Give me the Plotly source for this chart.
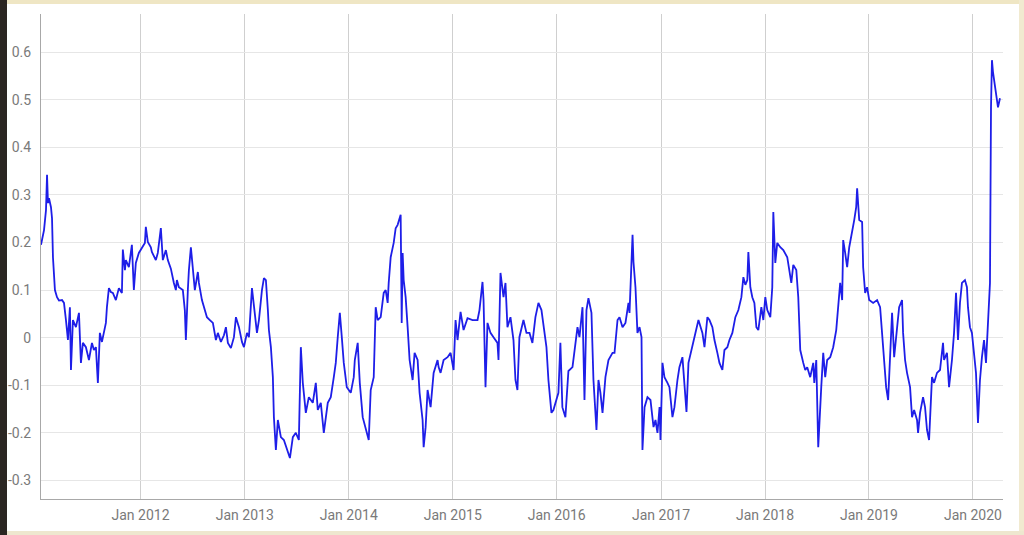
import pandas as pd
import plotly.graph_objects as go

# time as decimal years
t_years = [
    2011.043, 2011.053, 2011.072, 2011.091, 2011.101, 2011.110, 2011.120, 2011.139, 2011.149, 2011.158,
    2011.168, 2011.177, 2011.197, 2011.216, 2011.245, 2011.264, 2011.283, 2011.302, 2011.321, 2011.331,
    2011.350, 2011.379, 2011.408, 2011.427, 2011.446, 2011.475, 2011.504, 2011.533, 2011.552, 2011.571,
    2011.590, 2011.609, 2011.629, 2011.648, 2011.667, 2011.677, 2011.696, 2011.715, 2011.734, 2011.763,
    2011.792, 2011.821, 2011.830, 2011.850, 2011.859, 2011.888, 2011.917, 2011.936, 2011.955, 2011.984,
    2012.013, 2012.042, 2012.051, 2012.070, 2012.099, 2012.109, 2012.147, 2012.166, 2012.195, 2012.214,
    2012.243, 2012.262, 2012.291, 2012.301, 2012.320, 2012.339, 2012.349, 2012.368, 2012.406, 2012.425,
    2012.435, 2012.454, 2012.464, 2012.483, 2012.502, 2012.521, 2012.550, 2012.560, 2012.589, 2012.608,
    2012.637, 2012.665, 2012.694, 2012.723, 2012.742, 2012.771, 2012.800, 2012.819, 2012.838, 2012.867,
    2012.896, 2012.915, 2012.944, 2012.973, 2012.992, 2013.021, 2013.040, 2013.069, 2013.088, 2013.117,
    2013.136, 2013.165, 2013.184, 2013.203, 2013.222, 2013.232, 2013.251, 2013.270, 2013.280, 2013.299,
    2013.318, 2013.347, 2013.376, 2013.414, 2013.434, 2013.462, 2013.491, 2013.520, 2013.539, 2013.558,
    2013.587, 2013.616, 2013.654, 2013.683, 2013.702, 2013.731, 2013.760, 2013.798, 2013.827, 2013.856,
    2013.875, 2013.894, 2013.914, 2013.933, 2013.952, 2013.981, 2014.019, 2014.048, 2014.058, 2014.086,
    2014.106, 2014.134, 2014.163, 2014.192, 2014.211, 2014.240, 2014.259, 2014.278, 2014.307, 2014.336,
    2014.355, 2014.374, 2014.384, 2014.403, 2014.432, 2014.451, 2014.470, 2014.499, 2014.509, 2014.518,
    2014.528, 2014.547, 2014.566, 2014.585, 2014.614, 2014.633, 2014.662, 2014.681, 2014.710, 2014.720,
    2014.739, 2014.758, 2014.787, 2014.816, 2014.854, 2014.864, 2014.883, 2014.912, 2014.950, 2014.979,
    2015.008, 2015.027, 2015.046, 2015.075, 2015.104, 2015.142, 2015.190, 2015.238, 2015.257, 2015.286,
    2015.296, 2015.315, 2015.334, 2015.363, 2015.392, 2015.430, 2015.440, 2015.459, 2015.488, 2015.507,
    2015.526, 2015.555, 2015.584, 2015.603, 2015.622, 2015.641, 2015.680, 2015.709, 2015.738, 2015.766,
    2015.795, 2015.824, 2015.853, 2015.872, 2015.901, 2015.920, 2015.949, 2015.968, 2015.997, 2016.016,
    2016.035, 2016.054, 2016.083, 2016.112, 2016.151, 2016.170, 2016.199, 2016.218, 2016.247, 2016.266,
    2016.285, 2016.304, 2016.333, 2016.352, 2016.381, 2016.400, 2016.419, 2016.439, 2016.467, 2016.496,
    2016.535, 2016.554, 2016.583, 2016.602, 2016.631, 2016.659, 2016.688, 2016.698, 2016.717, 2016.727,
    2016.736, 2016.755, 2016.774, 2016.794, 2016.813, 2016.822, 2016.842, 2016.870, 2016.899, 2016.928,
    2016.947, 2016.966, 2016.986, 2016.995, 2017.014, 2017.033, 2017.062, 2017.081, 2017.110, 2017.129,
    2017.158, 2017.177, 2017.206, 2017.225, 2017.245, 2017.264, 2017.293, 2017.312, 2017.341, 2017.360,
    2017.398, 2017.418, 2017.446, 2017.466, 2017.494, 2017.514, 2017.542, 2017.562, 2017.590, 2017.610,
    2017.638, 2017.658, 2017.686, 2017.715, 2017.744, 2017.773, 2017.792, 2017.811, 2017.830, 2017.840,
    2017.859, 2017.878, 2017.898, 2017.917, 2017.936, 2017.965, 2017.984, 2018.003, 2018.022, 2018.051,
    2018.070, 2018.080, 2018.099, 2018.118, 2018.147, 2018.176, 2018.214, 2018.234, 2018.253, 2018.272,
    2018.301, 2018.320, 2018.339, 2018.368, 2018.387, 2018.406, 2018.435, 2018.464, 2018.474, 2018.493,
    2018.512, 2018.541, 2018.560, 2018.579, 2018.598, 2018.627, 2018.656, 2018.685, 2018.704, 2018.723,
    2018.742, 2018.752, 2018.771, 2018.790, 2018.810, 2018.838, 2018.858, 2018.877, 2018.886, 2018.906,
    2018.934, 2018.944, 2018.963, 2018.982, 2019.002, 2019.040, 2019.078, 2019.107, 2019.126, 2019.146,
    2019.165, 2019.184, 2019.203, 2019.222, 2019.242, 2019.270, 2019.290, 2019.318, 2019.328, 2019.347,
    2019.366, 2019.395, 2019.414, 2019.434, 2019.462, 2019.472, 2019.491, 2019.520, 2019.539, 2019.558,
    2019.578, 2019.606, 2019.626, 2019.654, 2019.683, 2019.712, 2019.722, 2019.750, 2019.770, 2019.798,
    2019.818, 2019.837, 2019.856, 2019.875, 2019.894, 2019.923, 2019.942, 2019.952, 2019.971, 2019.990,
    2020.010, 2020.029, 2020.048, 2020.067, 2020.086, 2020.106, 2020.125, 2020.144, 2020.154, 2020.163,
    2020.173, 2020.182, 2020.192, 2020.211, 2020.230, 2020.240, 2020.259,
]

values = [
    0.195, 0.205, 0.226, 0.268, 0.342, 0.283, 0.293, 0.274, 0.251, 0.169,
    0.121, 0.100, 0.085, 0.078, 0.079, 0.073, 0.037, -0.005, 0.064, -0.068,
    0.037, 0.022, 0.052, -0.053, -0.011, -0.020, -0.047, -0.011, -0.026, -0.020,
    -0.095, 0.010, -0.009, 0.010, 0.031, 0.064, 0.104, 0.096, 0.094, 0.079,
    0.104, 0.094, 0.185, 0.142, 0.163, 0.148, 0.195, 0.100, 0.157, 0.178,
    0.190, 0.199, 0.233, 0.201, 0.190, 0.180, 0.163, 0.178, 0.230, 0.163,
    0.184, 0.163, 0.145, 0.132, 0.115, 0.100, 0.121, 0.106, 0.100, 0.058,
    -0.005, 0.100, 0.142, 0.190, 0.148, 0.100, 0.138, 0.115, 0.079, 0.064,
    0.043, 0.037, 0.031, -0.005, 0.010, -0.009, 0.005, 0.022, -0.011, -0.022,
    0.001, 0.043, 0.022, -0.009, -0.020, 0.010, 0.001, 0.104, 0.064, 0.010,
    0.037, 0.100, 0.125, 0.121, 0.058, 0.016, -0.020, -0.083, -0.167, -0.236,
    -0.173, -0.209, -0.215, -0.242, -0.253, -0.209, -0.200, -0.215, -0.020, -0.095,
    -0.158, -0.125, -0.137, -0.095, -0.152, -0.137, -0.200, -0.137, -0.125, -0.083,
    -0.053, 0.001, 0.052, 0.001, -0.053, -0.104, -0.116, -0.083, -0.047, -0.011,
    -0.095, -0.167, -0.194, -0.215, -0.110, -0.083, 0.064, 0.037, 0.043, 0.094,
    0.100, 0.073, 0.115, 0.169, 0.199, 0.230, 0.237, 0.258, 0.031, 0.178,
    0.121, 0.085, 0.022, -0.047, -0.089, -0.032, -0.047, -0.116, -0.173, -0.230,
    -0.188, -0.110, -0.146, -0.074, -0.047, -0.062, -0.074, -0.047, -0.041, -0.032,
    -0.068, 0.037, -0.005, 0.054, 0.016, 0.041, 0.037, 0.037, 0.058, 0.117,
    0.079, -0.104, 0.031, 0.010, 0.001, -0.011, -0.047, 0.136, 0.085, 0.115,
    0.022, 0.043, -0.005, -0.089, -0.110, 0.001, 0.037, 0.010, 0.010, -0.011,
    0.043, 0.073, 0.058, 0.022, -0.020, -0.089, -0.158, -0.152, -0.131, -0.116,
    -0.011, -0.146, -0.167, -0.070, -0.062, -0.032, 0.022, 0.001, 0.064, -0.131,
    0.058, 0.083, 0.052, -0.089, -0.194, -0.089, -0.116, -0.158, -0.083, -0.047,
    -0.032, -0.032, 0.037, 0.043, 0.022, 0.031, 0.073, 0.052, 0.178, 0.216,
    0.159, 0.106, 0.010, 0.022, 0.001, -0.236, -0.146, -0.125, -0.131, -0.188,
    -0.173, -0.200, -0.146, -0.215, -0.053, -0.083, -0.095, -0.104, -0.167, -0.146,
    -0.089, -0.062, -0.041, -0.095, -0.156, -0.053, -0.026, -0.009, 0.016, 0.037,
    0.010, -0.020, 0.043, 0.037, 0.022, -0.005, -0.032, -0.053, -0.068, -0.026,
    -0.020, -0.005, 0.010, 0.043, 0.058, 0.085, 0.127, 0.111, 0.121, 0.180,
    0.106, 0.085, 0.073, 0.022, 0.016, 0.064, 0.037, 0.085, 0.058, 0.043,
    0.106, 0.264, 0.157, 0.199, 0.190, 0.184, 0.169, 0.142, 0.115, 0.153,
    0.142, 0.085, -0.026, -0.053, -0.068, -0.062, -0.083, -0.053, -0.095, -0.047,
    -0.230, -0.104, -0.032, -0.083, -0.047, -0.041, -0.020, 0.016, 0.064, 0.115,
    0.079, 0.205, 0.178, 0.148, 0.190, 0.219, 0.247, 0.274, 0.314, 0.247,
    0.243, 0.148, 0.094, 0.106, 0.079, 0.073, 0.079, 0.064, 0.010, -0.062,
    -0.104, -0.131, -0.032, 0.052, -0.041, 0.031, 0.064, 0.079, 0.010, -0.047,
    -0.074, -0.104, -0.167, -0.152, -0.173, -0.200, -0.158, -0.125, -0.146, -0.194,
    -0.215, -0.083, -0.095, -0.074, -0.068, -0.011, -0.047, -0.032, -0.104, -0.047,
    0.010, 0.094, -0.005, 0.073, 0.115, 0.121, 0.106, 0.064, 0.022, 0.010,
    -0.041, -0.074, -0.179, -0.089, -0.041, -0.005, -0.053, 0.043, 0.064, 0.115,
    0.484, 0.583, 0.558, 0.526, 0.495, 0.484, 0.503,
]

x_range_years = [2011.043, 2020.288]
y_range = [-0.339, 0.680]
y_tick_vals = [-0.3, -0.2, -0.1, 0.0, 0.1, 0.2, 0.3, 0.4, 0.5, 0.6]
y_tick_text = ["-0.3", "-0.2", "-0.1", "0", "0.1", "0.2", "0.3", "0.4", "0.5", "0.6"]


def year_to_date(t):
    y = int(t)
    start = pd.Timestamp(year=y, month=1, day=1)
    end = pd.Timestamp(year=y + 1, month=1, day=1)
    return start + (end - start) * (t - y)


dates = [year_to_date(t) for t in t_years]

fig = go.Figure()
fig.add_trace(go.Scatter(
    x=dates, y=values, mode="lines",
    line=dict(color="rgb(30,30,232)", width=1.8),
    showlegend=False, hoverinfo="x+y",
))

tick_font = dict(family="Roboto, Arial, sans-serif", size=14, color="#7a7a7a")

# screenshot frame (dark strip at left, pale border elsewhere), in paper units
W, H, L, R, T, B = 1024, 535, 41, 21, 14, 36
pw, ph = W - L - R, H - T - B
def px(x):
    return (x - L) / pw
def py(y):
    return (H - B - y) / ph

shapes = [
    dict(type="rect", xref="paper", yref="paper", x0=px(0), x1=px(7), y0=py(535), y1=py(0),
         fillcolor="#2b2622", line=dict(width=0), layer="above"),
    dict(type="rect", xref="paper", yref="paper", x0=px(7), x1=px(1024), y0=py(4), y1=py(0),
         fillcolor="#efe6c4", line=dict(width=0), layer="above"),
    dict(type="rect", xref="paper", yref="paper", x0=px(1019), x1=px(1024), y0=py(535), y1=py(0),
         fillcolor="#f1ead0", line=dict(width=0), layer="above"),
    dict(type="rect", xref="paper", yref="paper", x0=px(7), x1=px(1024), y0=py(535), y1=py(531),
         fillcolor="#eee7cf", line=dict(width=0), layer="above"),
]

fig.update_layout(
    width=W, height=H,
    margin=dict(l=L, r=R, t=T, b=B, autoexpand=False),
    paper_bgcolor="white", plot_bgcolor="white",
    shapes=shapes,
    xaxis=dict(
        type="date", automargin=False,
        range=[year_to_date(x_range_years[0]), year_to_date(x_range_years[1])],
        tick0="2012-01-01", dtick="M12", tickformat="%b %Y",
        showgrid=True, gridcolor="#cfcfcf", gridwidth=1,
        showline=True, linecolor="#a8a8a8", linewidth=1,
        zeroline=False, ticks="", tickfont=tick_font,
        ticklabelstandoff=3,
    ),
    yaxis=dict(
        range=y_range, automargin=False,
        tickvals=y_tick_vals, ticktext=y_tick_text,
        showgrid=True, gridcolor="#e6e6e6", gridwidth=1,
        showline=True, linecolor="#a8a8a8", linewidth=1,
        zeroline=False, ticks="", tickfont=tick_font,
        ticklabelstandoff=6,
    ),
)

fig.write_html(
    "out.html",
    config={"displayModeBar": False},
    post_script="document.body.style.margin='0';document.body.style.overflow='hidden';",
)
